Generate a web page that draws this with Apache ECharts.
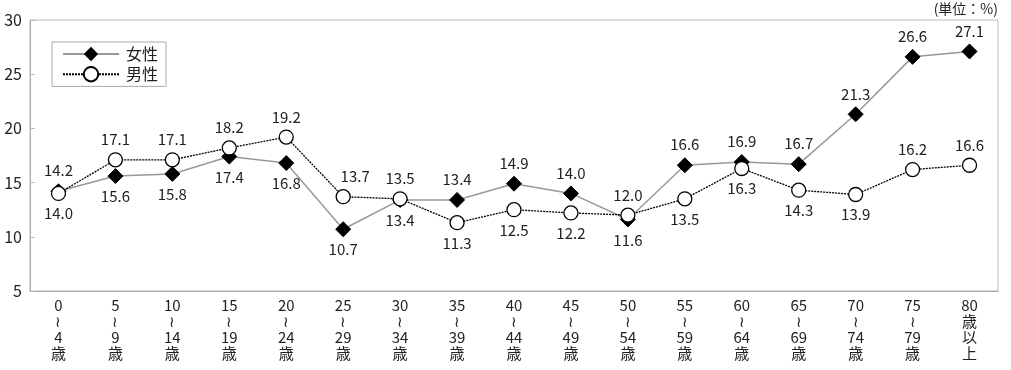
<!DOCTYPE html>
<html><head><meta charset="utf-8">
<script src="https://cdn.jsdelivr.net/npm/echarts@6/dist/echarts.min.js"></script>
<style>html,body{margin:0;padding:0;background:#fff}#c{width:1011px;height:370px}</style>
</head><body><div id="c"></div>
<script>
const categories = ['0\n≀\n4\n歳','5\n≀\n9\n歳','10\n≀\n14\n歳','15\n≀\n19\n歳','20\n≀\n24\n歳','25\n≀\n29\n歳','30\n≀\n34\n歳','35\n≀\n39\n歳','40\n≀\n44\n歳','45\n≀\n49\n歳','50\n≀\n54\n歳','55\n≀\n59\n歳','60\n≀\n64\n歳','65\n≀\n69\n歳','70\n≀\n74\n歳','75\n≀\n79\n歳','80\n歳\n以\n上'];
const female = [14.2,15.6,15.8,17.4,16.8,10.7,13.4,13.4,14.9,14.0,11.6,16.6,16.9,16.7,21.3,26.6,27.1];
const male = [14.0,17.1,17.1,18.2,19.2,13.7,13.5,11.3,12.5,12.2,12.0,13.5,16.3,14.3,13.9,16.2,16.6];
const yTicks = [5,10,15,20,25,30];
const unitText = '(単位：%)';

const femaleLabelPos = ['top','bottom','bottom','bottom','bottom','bottom','bottom','top','top','top','bottom','top','top','top','top','top','top'];
const maleLabelPos = ['bottom','top','top','top','top','top','top','bottom','bottom','bottom','top','bottom','bottom','bottom','bottom','top','top'];
const maleLabelShift = [0,0,0,0,0,12,0,0,0,0,0,0,0,0,0,0,0];

const FONT = '"Noto Sans CJK JP", "Noto Sans", sans-serif';
const TXT = '#222';

function mk(vals, pos, shift) {
  return vals.map((v, i) => ({ value: v, label: { position: pos[i], offset: [shift ? shift[i] : 0, 0] } }));
}

const chart = echarts.init(document.getElementById('c'), null, { renderer: 'canvas' });
chart.setOption({
  animation: false,
  textStyle: { fontFamily: FONT, color: TXT },
  grid: { left: 30, right: 13, top: 20, bottom: 79, show: true, borderColor: '#bbb', borderWidth: 1 },
  graphic: [{ type: 'text', right: 13, top: 2, style: { text: unitText, font: '14px ' + FONT, fill: TXT } }],
  legend: {
    orient: 'vertical', left: 52, top: 42, data: ['女性', '男性'],
    borderColor: '#aaa', borderWidth: 1, padding: [4, 8, 4, 10], itemGap: 4,
    itemWidth: 56, itemHeight: 18,
    textStyle: { fontSize: 16, color: TXT, fontFamily: FONT, padding: [0, 0, 0, 2] }
  },
  xAxis: {
    type: 'category', data: categories, boundaryGap: true,
    axisLine: { lineStyle: { color: '#aaa' } },
    axisTick: { inside: true, length: 6, lineStyle: { color: '#bbb' } },
    axisLabel: { color: TXT, fontSize: 15, lineHeight: 16, margin: 6, fontFamily: FONT, interval: 0 }
  },
  yAxis: {
    type: 'value', min: yTicks[0], max: yTicks[yTicks.length - 1], interval: 5,
    axisLine: { show: true, lineStyle: { color: '#aaa' } },
    axisTick: { show: true, inside: true, length: 5, lineStyle: { color: '#bbb' } },
    splitLine: { show: false },
    axisLabel: { color: TXT, fontSize: 16, margin: 8, fontFamily: FONT }
  },
  series: [
    {
      name: '女性', type: 'line', data: mk(female, femaleLabelPos),
      symbol: 'diamond', symbolSize: 15,
      itemStyle: { color: '#000', borderColor: '#000' },
      lineStyle: { color: '#999', width: 1.5 },
      label: { show: true, fontSize: 15, color: TXT, fontFamily: FONT, distance: 5, formatter: p => p.value.toFixed(1) }
    },
    {
      name: '男性', type: 'line', data: mk(male, maleLabelPos, maleLabelShift),
      symbol: 'circle', symbolSize: 14,
      itemStyle: { color: '#fff', borderColor: '#000', borderWidth: 1.3 },
      lineStyle: { color: '#000', width: 1.3, type: [2, 1] },
      label: { show: true, fontSize: 15, color: TXT, fontFamily: FONT, distance: 5, formatter: p => p.value.toFixed(1) }
    }
  ]
});
</script></body></html>
